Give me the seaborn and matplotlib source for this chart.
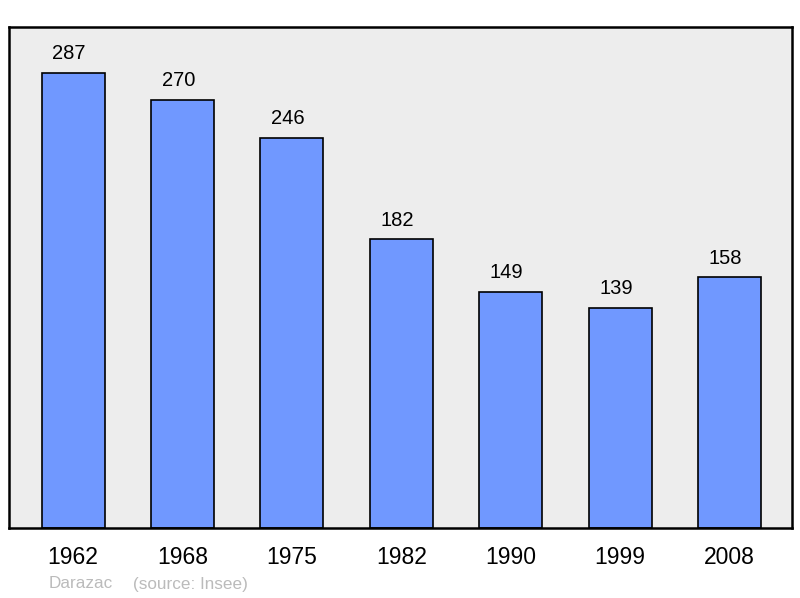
import pandas as pd
import matplotlib.pyplot as plt
import seaborn as sns

years = ["1962", "1968", "1975", "1982", "1990", "1999", "2008"]
population = [287, 270, 246, 182, 149, 139, 158]

sns.set_style("white")
plt.rcParams["font.family"] = ["Liberation Sans", "DejaVu Sans"]

df = pd.DataFrame({"year": years, "population": population})

fig = plt.figure(figsize=(8, 5.98), dpi=100)
ax = fig.add_axes([0.01125, 0.117, 0.97875, 0.838])
ax.set_facecolor("#EDEDED")

sns.barplot(data=df, x="year", y="population", color="#7098FF", saturation=1,
            width=0.576, edgecolor="black", linewidth=1.2, ax=ax)

# labels sit a bit left of the bar centre in the original
for i, v in enumerate(population):
    ax.annotate(str(v), (i, v), xytext=(-3, 7), textcoords="offset points",
                ha="center", va="bottom", fontsize=14.5, color="black")

ax.set_xlim(-0.585, 6.57)
ax.set_ylim(0, 316)
ax.set_yticks([])
ax.set_xlabel("")
ax.set_ylabel("")
ax.tick_params(axis="x", length=0, labelsize=16.5, pad=13, labelcolor="black")
for s in ax.spines.values():
    s.set_visible(True)
    s.set_color("black")
    s.set_linewidth(1.8)

fig.text(49 / 800, 1 - 584 / 598, "Darazac", color="#BBBBBB", fontsize=12.3, va="center")
fig.text(133 / 800, 1 - 584 / 598, "(source: Insee)", color="#BBBBBB", fontsize=12.3, va="center")

fig.savefig("out.png", dpi=100)
